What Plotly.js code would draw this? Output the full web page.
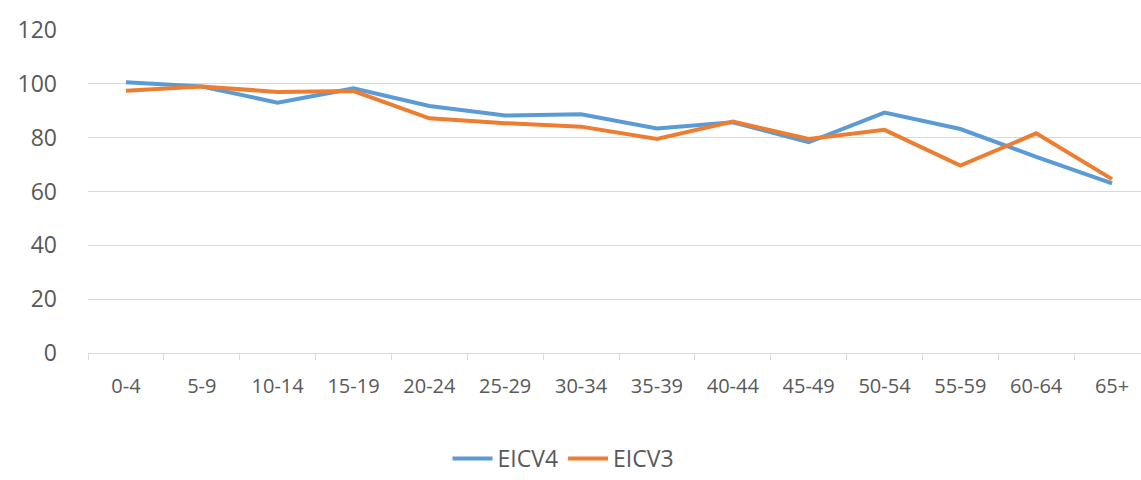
<!DOCTYPE html>
<html>
<head>
<meta charset="utf-8">
<script src="https://cdn.plot.ly/plotly-3.0.1.min.js"></script>
<style>
html,body{margin:0;padding:0;overflow:hidden;background:#fff;}
#chart{width:1150px;height:480px;}
</style>
</head>
<body>
<div id="chart"></div>
<script>
const categories = ["0-4","5-9","10-14","15-19","20-24","25-29","30-34","35-39","40-44","45-49","50-54","55-59","60-64","65+"];
const eicv4 = [100.6, 99.0, 93.0, 98.3, 91.8, 88.2, 88.7, 83.4, 85.7, 78.3, 89.3, 83.2, 72.9, 63.0];
const eicv3 = [97.4, 99.0, 97.0, 97.3, 87.2, 85.4, 84.1, 79.5, 86.0, 79.5, 82.9, 69.6, 81.6, 64.6];
const yTicks = [0, 20, 40, 60, 80, 100, 120];

const traces = [
  {x: categories, y: eicv4, name: "EICV4", type: "scatter", mode: "lines",
   line: {color: "#5B9BD5", width: 4, shape: "linear"}},
  {x: categories, y: eicv3, name: "EICV3", type: "scatter", mode: "lines",
   line: {color: "#ED7D31", width: 4, shape: "linear"}}
];

const layout = {
  width: 1150, height: 480,
  margin: {l: 88, r: 0, t: 30, b: 127},
  paper_bgcolor: "#ffffff", plot_bgcolor: "#ffffff",
  showlegend: true,
  legend: {orientation: "h", xref: "container", yref: "container", x: 0.49, xanchor: "center",
           y: 0, yanchor: "bottom", font: {family: "Open Sans, sans-serif", size: 23, color: "#595959"},
           itemwidth: 40, tracegroupgap: 0},
  xaxis: {
    type: "category", tickvals: categories, ticktext: categories,
    showgrid: false, showline: true, linecolor: "#d9d9d9", linewidth: 1,
    ticks: "outside", tickson: "boundaries", ticklen: 6, tickcolor: "#d9d9d9",
    ticklabelstandoff: 15,
    tickfont: {family: "Open Sans, sans-serif", size: 20, color: "#595959"},
    range: [-0.5, 13.5], zeroline: false
  },
  yaxis: {
    range: [0, 120], tickvals: yTicks, ticktext: yTicks.map(String),
    showgrid: true, gridcolor: "#d9d9d9", gridwidth: 1,
    zeroline: false, showline: false, ticks: "",
    ticklabelstandoff: 30,
    tickfont: {family: "Open Sans, sans-serif", size: 23, color: "#595959"}
  }
};

Plotly.newPlot("chart", traces, layout, {displayModeBar: false, staticPlot: true});
</script>
</body>
</html>
